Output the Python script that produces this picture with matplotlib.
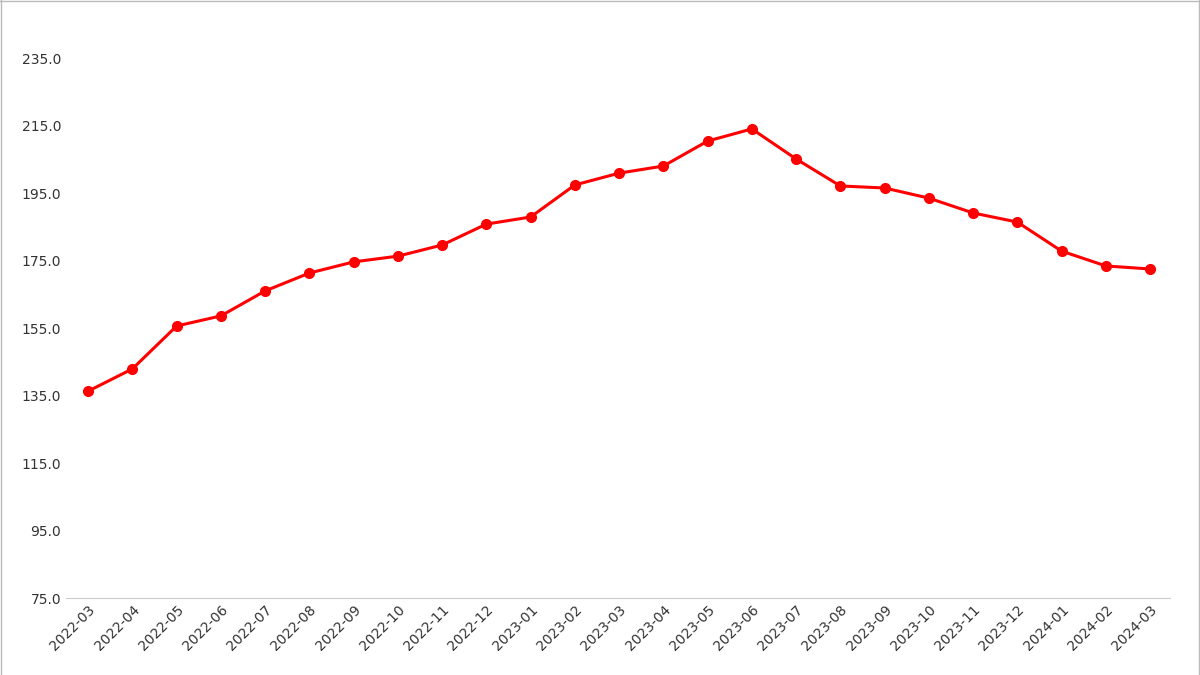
import matplotlib
matplotlib.use("Agg")
import matplotlib.pyplot as plt

months = ["2022-03","2022-04","2022-05","2022-06","2022-07","2022-08","2022-09","2022-10","2022-11","2022-12",
          "2023-01","2023-02","2023-03","2023-04","2023-05","2023-06","2023-07","2023-08","2023-09","2023-10",
          "2023-11","2023-12","2024-01","2024-02","2024-03"]
values = [136.3,142.9,155.6,158.6,166.0,171.3,174.6,176.3,179.6,185.8,
          187.9,197.4,200.9,203.0,210.4,214.0,205.1,197.1,196.5,193.5,
          189.1,186.4,177.8,173.4,172.5]
yticks = [75,95,115,135,155,175,195,215,235]

fig = plt.figure(figsize=(12,6.75), dpi=100)
ax = fig.add_axes([0.055, 0.114, 0.92, 0.850])
x = list(range(len(months)))
ax.plot(x, values, color="#ff0000", lw=2.2, marker="o", ms=7)
ax.set_ylim(75, 245)
ax.set_xlim(-0.5, len(months)-0.55)
ax.set_yticks(yticks)
ax.set_yticklabels([f"{v:.1f}" for v in yticks], fontsize=10, color="#333333")
ax.set_xticks(x)
ax.set_xticklabels(months, rotation=45, ha="right", rotation_mode="anchor", fontsize=10, color="#333333")
for s in ["top","right","left"]:
    ax.spines[s].set_visible(False)
ax.spines["bottom"].set_color("#cccccc")
ax.tick_params(length=0)
fig.add_artist(plt.Line2D([0,1],[0.999,0.999], color="#bbbbbb", lw=1))
fig.add_artist(plt.Line2D([0.001,0.001],[0,1], color="#bbbbbb", lw=1))
fig.add_artist(plt.Line2D([0.999,0.999],[0,1], color="#bbbbbb", lw=1))
fig.savefig("out.png", dpi=100)
